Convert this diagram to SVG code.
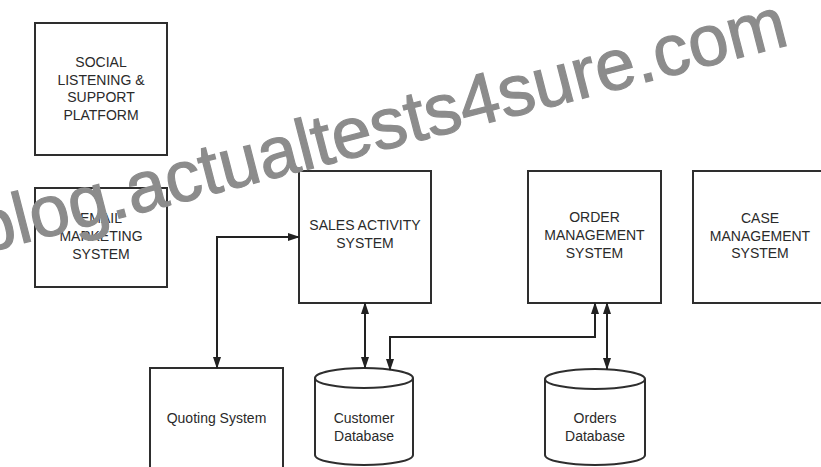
<svg xmlns="http://www.w3.org/2000/svg" width="821" height="467" viewBox="0 0 821 467">
  <style>
    .box { fill: #ffffff; stroke: #2e2e2e; stroke-width: 2; }
    .db { fill: #ffffff; stroke: #2e2e2e; stroke-width: 2; }
    .lbl { font-family: "Liberation Sans", Arial, sans-serif; font-size: 14px; fill: #2a2a2a; text-anchor: middle; }
    .conn { fill: none; stroke: #222222; stroke-width: 2; }
    .wm { font-family: "Liberation Sans", Arial, sans-serif; font-size: 72px; fill: #8c8c8c; stroke: #8c8c8c; stroke-width: 1.2; }
  </style>
  <defs>
    <marker id="ah" viewBox="0 0 12 8" refX="11" refY="4" markerWidth="12" markerHeight="8" markerUnits="userSpaceOnUse" orient="auto-start-reverse">
      <path d="M0,0 L12,4 L0,8 z" fill="#222222"/>
    </marker>
  </defs>
  <rect width="821" height="467" fill="#ffffff"/>

  <g id="social">
    <rect class="box" x="35" y="23" width="132" height="132"/>
    <text class="lbl" x="101" y="67">SOCIAL</text>
    <text class="lbl" x="101" y="84.5">LISTENING &amp;</text>
    <text class="lbl" x="101" y="102">SUPPORT</text>
    <text class="lbl" x="101" y="120">PLATFORM</text>
  </g>

  <g id="email">
    <rect class="box" x="35" y="188" width="132" height="99"/>
    <text class="lbl" x="101" y="223">EMAIL</text>
    <text class="lbl" x="101" y="241">MARKETING</text>
    <text class="lbl" x="101" y="259">SYSTEM</text>
  </g>

  <g id="sales">
    <rect class="box" x="299" y="171" width="132" height="132"/>
    <text class="lbl" x="365" y="230">SALES ACTIVITY</text>
    <text class="lbl" x="365" y="248">SYSTEM</text>
  </g>

  <g id="order">
    <rect class="box" x="528" y="171" width="133" height="132"/>
    <text class="lbl" x="594.5" y="222">ORDER</text>
    <text class="lbl" x="594.5" y="240">MANAGEMENT</text>
    <text class="lbl" x="594.5" y="258">SYSTEM</text>
  </g>

  <g id="case">
    <rect class="box" x="693" y="171" width="132" height="132"/>
    <text class="lbl" x="760" y="223">CASE</text>
    <text class="lbl" x="760" y="241">MANAGEMENT</text>
    <text class="lbl" x="760" y="258">SYSTEM</text>
  </g>

  <g id="quoting">
    <rect class="box" x="150" y="368" width="133" height="110"/>
    <text class="lbl" x="216.5" y="423">Quoting System</text>
  </g>

  <g id="customer-db">
    <path class="db" d="M315,378 V455 A49,10 0 0,0 413,455 V378 A49,10 0 0,0 315,378 Z"/>
    <path class="db" d="M315,378 A49,10 0 0,0 413,378"/>
    <text class="lbl" x="364" y="423">Customer</text>
    <text class="lbl" x="364" y="441">Database</text>
  </g>

  <g id="orders-db">
    <path class="db" d="M545,379 V455 A50,10 0 0,0 645,455 V379 A50,10 0 0,0 545,379 Z"/>
    <path class="db" d="M545,379 A50,10 0 0,0 645,379"/>
    <text class="lbl" x="595" y="423">Orders</text>
    <text class="lbl" x="595" y="441">Database</text>
  </g>

  <g id="connectors">
    <path class="conn" d="M299,237 H217 V368" marker-start="url(#ah)" marker-end="url(#ah)"/>
    <path class="conn" d="M365,303 V368" marker-start="url(#ah)" marker-end="url(#ah)"/>
    <path class="conn" d="M595,303 V337 H390 V370" marker-start="url(#ah)" marker-end="url(#ah)"/>
    <path class="conn" d="M607,303 V369" marker-start="url(#ah)" marker-end="url(#ah)"/>
  </g>

  <text class="wm" x="-19" y="254" transform="rotate(-14.5 -19 254)">blog.actualtests4sure.com</text>
</svg>
